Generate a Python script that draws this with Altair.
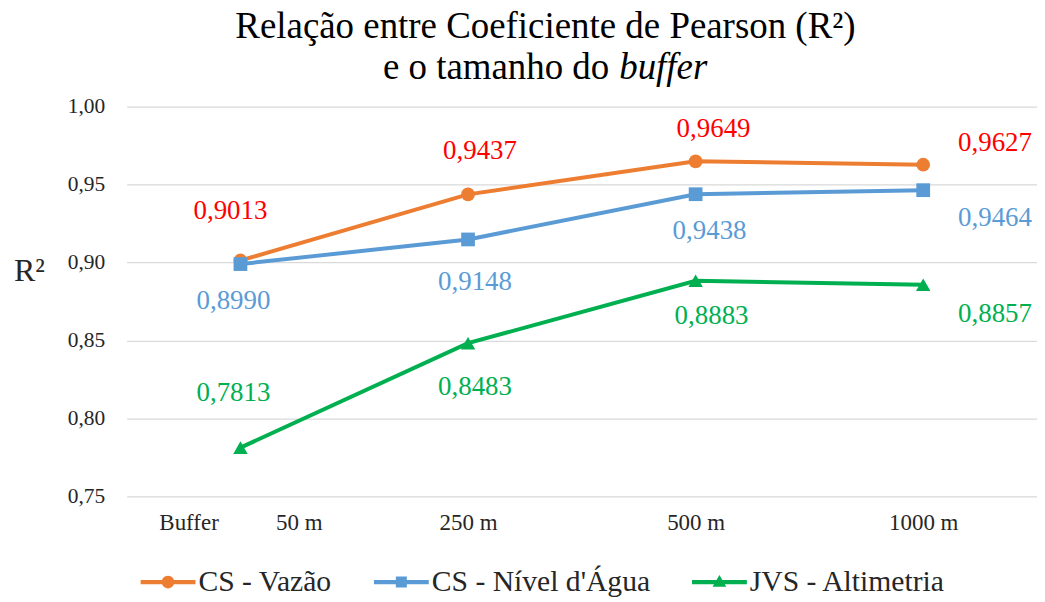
import altair as alt
import pandas as pd

# ---------------- data ----------------
buffers = ["50 m", "250 m", "500 m", "1000 m"]
series = ["CS - Vazão", "CS - Nível d'Água", "JVS - Altimetria"]
vazao = [0.9013, 0.9437, 0.9649, 0.9627]
nivel = [0.8990, 0.9148, 0.9438, 0.9464]
altimetria = [0.7813, 0.8483, 0.8883, 0.8857]
y_ticks = [0.75, 0.80, 0.85, 0.90, 0.95, 1.00]
axis_prefix = "Buffer"
title_line1 = "Relação entre Coeficiente de Pearson (R²)"
title_line2a = "e o tamanho do"
title_line2b = "buffer"
y_title = "R²"

rows = []
for s, vals in zip(series, [vazao, nivel, altimetria]):
    for b, v in zip(buffers, vals):
        rows.append({"buffer": b, "serie": s, "r2": v})
df = pd.DataFrame(rows)

# ---------------- styles ----------------
FONT = "Liberation Serif"
line_colors = ["#ED7D31", "#5B9BD5", "#00B050"]
label_colors = ["#FF0000", "#5B9BD5", "#00B050"]
marker_shapes = ["circle", "square", "triangle-up"]
marker_sizes = [190, 190, 210]
legend_paths = [
    "M-1,-0.075L1,-0.075L1,0.075L-1,0.075Z M0.23,0A0.23,0.23,0,1,1,-0.23,0A0.23,0.23,0,1,1,0.23,0Z",
    "M-1,-0.075L1,-0.075L1,0.075L-1,0.075Z M-0.2,-0.2L0.2,-0.2L0.2,0.2L-0.2,0.2Z",
    "M-1,-0.075L1,-0.075L1,0.075L-1,0.075Z M0,-0.26L0.25,0.17L-0.25,0.17Z",
]
# label offsets (dx, dy) per series per buffer
label_offsets = [
    [(-10, -50), (12, -43), (18, -32), (72, -22)],
    [(-7, 37), (7, 43), (14, 37), (72, 28)],
    [(-7, -55), (7, 44), (16, 35), (72, 29)],
]

W, H = 913, 391
nb = "\u00a0" * 10


def color_scale():
    return alt.Scale(domain=series, range=line_colors)


x_enc = alt.X(
    "buffer:N",
    sort=buffers,
    scale=alt.Scale(type="point", padding=0.5),
    title=None,
    axis=alt.Axis(
        labelExpr=f"datum.value == '{buffers[0]}' ? '{axis_prefix}{nb}' + datum.label : datum.label",
        labelFont=FONT,
        labelFontSize=23,
        labelColor="#262626",
        labelAngle=0,
        labelBaseline="middle",
        labelPadding=26,
        ticks=False,
        domain=False,
        grid=False,
    ),
)
y_enc = alt.Y(
    "r2:Q",
    scale=alt.Scale(domain=[0.75, 1.0], nice=False, zero=False),
    title=y_title,
    axis=alt.Axis(
        values=y_ticks,
        labelExpr="replace(format(datum.value, '.2f'), '.', ',')",
        labelFont=FONT,
        labelFontSize=21.5,
        labelColor="#262626",
        labelPadding=22,
        ticks=False,
        domain=False,
        grid=True,
        gridColor="#D9D9D9",
        gridWidth=1.2,
        titleAngle=0,
        titleX=-98,
        titleY=164,
        titleAlign="center",
        titleBaseline="middle",
        titleFont=FONT,
        titleFontSize=32,
        titleFontWeight="normal",
        titleColor="#262626",
    ),
)

base = alt.Chart(df)

lines = base.mark_line(strokeWidth=4).encode(
    x=x_enc, y=y_enc,
    color=alt.Color("serie:N", scale=color_scale(), legend=None),
    detail="serie:N",
)

layers = [lines]
for s, shp, sz in zip(series, marker_shapes, marker_sizes):
    layers.append(
        base.transform_filter(alt.datum.serie == s)
        .mark_point(filled=True, shape=shp, size=sz, opacity=1)
        .encode(x=x_enc, y=y_enc, color=alt.Color("serie:N", scale=color_scale(), legend=None))
    )

for i, s in enumerate(series):
    for j, b in enumerate(buffers):
        dx, dy = label_offsets[i][j]
        layers.append(
            base.transform_filter((alt.datum.serie == s) & (alt.datum.buffer == b))
            .transform_calculate(lbl="replace(format(datum.r2, '.4f'), '.', ',')")
            .mark_text(font=FONT, fontSize=27, dx=dx, dy=dy, align="center", baseline="middle")
            .encode(x=x_enc, y=y_enc, text="lbl:N", color=alt.value(label_colors[i]))
        )

legend = alt.Legend(
    title=None,
    orient="none",
    legendX=14,
    legendY=449,
    direction="horizontal",
    columns=3,
    symbolSize=3025,
    symbolStrokeWidth=0,
    symbolOffset=0,
    labelOffset=3,
    columnPadding=42,
    labelFont=FONT,
    labelFontSize=29.7,
    labelColor="#262626",
    padding=0,
    labelLimit=400,
)
legend_layer = (
    base.transform_filter("false")
    .mark_point(filled=True, opacity=1, size=3025)
    .encode(
        x=x_enc, y=y_enc,
        color=alt.Color("serie:N", scale=color_scale(), legend=legend),
        shape=alt.Shape("serie:N", scale=alt.Scale(domain=series, range=legend_paths), legend=legend),
    )
)
layers.append(legend_layer)

t1 = pd.DataFrame({"t": [title_line1]})
layers.append(
    alt.Chart(t1).mark_text(font=FONT, fontSize=37, align="center", baseline="alphabetic", color="#000000")
    .encode(x=alt.value(420), y=alt.value(-69), text="t:N")
)
t2 = pd.DataFrame({"a": [title_line2a], "b": [title_line2b]})
layers.append(
    alt.Chart(t2).mark_text(font=FONT, fontSize=37, align="right", baseline="alphabetic", color="#000000")
    .encode(x=alt.value(484), y=alt.value(-28), text="a:N")
)
layers.append(
    alt.Chart(t2).mark_text(font=FONT, fontSize=37, fontStyle="italic", align="left", baseline="alphabetic", color="#000000")
    .encode(x=alt.value(494), y=alt.value(-28), text="b:N")
)

chart = (
    alt.layer(*layers)
    .resolve_scale(color="independent", shape="independent")
    .properties(
        width=W,
        height=H,
        autosize=alt.AutoSizeParams(type="none"),
        padding={"left": 119, "top": 98, "right": 0, "bottom": 105},
    )
    .configure_view(stroke=None)
)

chart.save("out.html", embed_options={"renderer": "svg", "actions": False})
